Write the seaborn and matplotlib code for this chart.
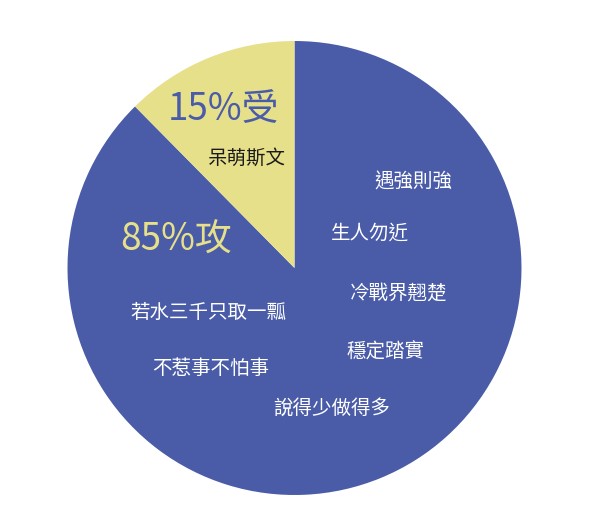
import matplotlib
matplotlib.use("Agg")
import matplotlib.pyplot as plt
import seaborn as sns

# ---- data ----
categories = ["攻", "受"]
# wedge sizes as drawn in the picture (labelled 85% / 15%)
wedge_shares = [87.6, 12.4]
share_labels = ["85%攻", "15%受"]
uke_traits = ["呆萌斯文"]
seme_traits = ["遇強則強", "生人勿近", "冷戰界翹楚", "若水三千只取一瓢",
               "穩定踏實", "不惹事不怕事", "說得少做得多"]

# ---- style ----
sns.set_theme(style="white")
plt.rcParams['font.family'] = ['Noto Sans CJK TC', 'DejaVu Sans']

blue = "#4a5ca8"
yellow = "#e7e08b"
palette = sns.color_palette([blue, yellow])

W, H = 600, 520
cx, cy, r = 294.5, 268, 227
fig = plt.figure(figsize=(W / 100, H / 100), dpi=100)
ax = fig.add_axes([(cx - r) / W, (H - cy - r) / H, 2 * r / W, 2 * r / H])
ax.pie(wedge_shares, colors=palette, startangle=90, counterclock=False,
       radius=1, wedgeprops=dict(linewidth=0))
ax.set_xlim(-1, 1)
ax.set_ylim(-1, 1)
ax.set_aspect("equal")
ax.axis("off")

def to_data(px, py):
    return (px - cx) / r, (cy - py) / r

# label layout (pixel centres in the 600x520 canvas)
share_pos = [(176, 240), (223, 110)]
share_colors = [yellow, blue]
for lab, (px, py), col in zip(share_labels, share_pos, share_colors):
    x, y = to_data(px, py)
    ax.text(x, y, lab, ha="center", va="center", fontsize=26.5, color=col)

uke_pos = [(247, 158)]
for lab, (px, py) in zip(uke_traits, uke_pos):
    x, y = to_data(px, py)
    ax.text(x, y, lab, ha="center", va="center", fontsize=14, color="#1a1a1a")

seme_pos = [(413, 182), (370, 233), (399, 293), (208, 312),
            (386, 352), (211, 368), (332, 408)]
for lab, (px, py) in zip(seme_traits, seme_pos):
    x, y = to_data(px, py)
    ax.text(x, y, lab, ha="center", va="center", fontsize=14, color="white")

fig.savefig("out.png", dpi=100, facecolor="white")
